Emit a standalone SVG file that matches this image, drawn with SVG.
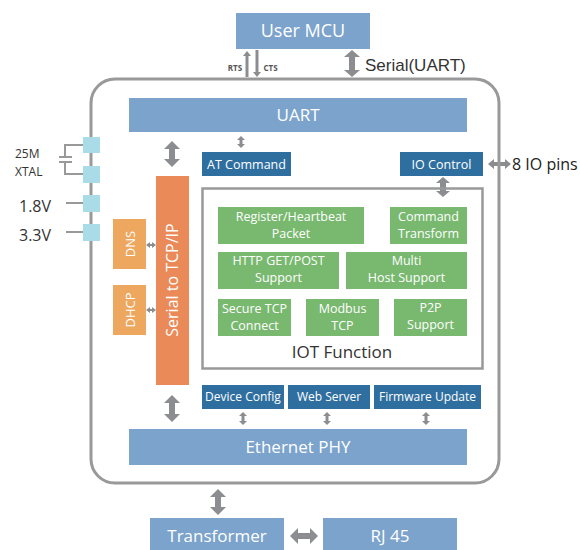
<svg xmlns="http://www.w3.org/2000/svg" width="580" height="550" viewBox="0 0 580 550">
<style>
.lb{fill:#7ba3cc}
.db{fill:#2f6f9f}
.gr{fill:#78b86f}
.or{fill:#e98a58}
.lo{fill:#eda75f}
.pin{fill:#a9dce6}
.ar{fill:#8b8d90}
.t{font-family:"Open Sans","Noto Sans",sans-serif;text-anchor:middle}
.w{fill:#ffffff}
.k{fill:#333333}
.ln{stroke:#999999;fill:none}
.g{font-size:12.5px}
.s{font-size:12px}
</style>
<g id="connectors">
<path class="ar" d="M247,51 L251,56 L248.5,56 L248.5,77 L245.5,77 L245.5,56 L243,56Z"/>
<path class="ar" d="M255.5,50 L258.5,50 L258.5,72 L261,72 L257,77 L253,72 L255.5,72Z"/>
<path class="ar" d="M352,50 L360,57 L355,57 L355,70 L360,70 L352,77 L344,70 L349,70 L349,57 L344,57Z"/>
<path class="ar" d="M172,141 L180,149 L175,149 L175,159 L180,159 L172,167 L164,159 L169,159 L169,149 L164,149Z"/>
<path class="ar" d="M172,395 L180,403 L175,403 L175,414 L180,414 L172,422 L164,414 L169,414 L169,403 L164,403Z"/>
<path class="ar" d="M218,489 L226,497 L221,497 L221,507 L226,507 L218,515 L210,507 L215,507 L215,497 L210,497Z"/>
<path class="ar" d="M290,536 L298,528 L298,533 L310,533 L310,528 L318,536 L310,544 L310,539 L298,539 L298,544Z"/>
<path class="ar" d="M443,177 L450,183 L446,183 L446,191 L450,191 L443,197 L436,191 L440,191 L440,183 L436,183Z"/>
<path class="ar" d="M488,164 L494,159 L494,162 L505,162 L505,159 L511,164 L505,169 L505,166 L494,166 L494,169Z"/>
<path class="ar" d="M241,136 L245,140 L242.5,140 L242.5,144 L245,144 L241,148 L237,144 L239.5,144 L239.5,140 L237,140Z"/>
<path class="ar" d="M146,245 L150,242 L150,244 L152,244 L152,242 L156,245 L152,248 L152,246 L150,246 L150,248Z"/>
<path class="ar" d="M146,310 L150,307 L150,309 L152,309 L152,307 L156,310 L152,313 L152,311 L150,311 L150,313Z"/>
<path class="ar" d="M243,412 L247,416 L244.5,416 L244.5,421 L247,421 L243,425 L239,421 L241.5,421 L241.5,416 L239,416Z"/>
<path class="ar" d="M327,412 L331,416 L328.5,416 L328.5,421 L331,421 L327,425 L323,421 L325.5,421 L325.5,416 L323,416Z"/>
<path class="ar" d="M426,412 L430,416 L427.5,416 L427.5,421 L430,421 L426,425 L422,421 L424.5,421 L424.5,416 L422,416Z"/>
<path class="ln" stroke-width="2" d="M83,145 L65,145 L65,157 M59,157 L72,157 M59,162 L72,162 M65,162 L65,174 L83,174 M66,203 L83,203 M66,232 L83,232"/>
</g>
<g id="main-box"><rect x="91" y="79" width="408" height="404" rx="24" class="ln" stroke-width="3"/></g>
<g id="user-mcu"><rect x="236" y="13" width="134" height="36" class="lb"/><text x="303" y="37" class="t w" font-size="18">User MCU</text></g>
<text x="235" y="71" class="t" font-size="8" font-weight="bold" fill="#555">RTS</text>
<text x="270.5" y="71" class="t" font-size="8" font-weight="bold" fill="#555">CTS</text>
<text x="365" y="71" font-family="'Liberation Sans',Arial,sans-serif" font-size="17" fill="#333">Serial(UART)</text>
<g id="uart"><rect x="129" y="98" width="338" height="34" class="lb"/><text x="298" y="121" class="t w" font-size="17">UART</text></g>
<g id="pins">
<rect x="83" y="137" width="17" height="16" class="pin"/>
<rect x="83" y="166" width="17" height="17" class="pin"/>
<rect x="83" y="195" width="17" height="17" class="pin"/>
<rect x="83" y="224" width="17" height="17" class="pin"/>
<text x="15" y="158" font-family="'Open Sans',sans-serif" font-size="12" fill="#333">25M</text>
<text x="15" y="176" font-family="'Open Sans',sans-serif" font-size="12" fill="#333">XTAL</text>
<text x="19" y="212" font-family="'Open Sans',sans-serif" font-size="16" fill="#333">1.8V</text>
<text x="19" y="241" font-family="'Open Sans',sans-serif" font-size="16" fill="#333">3.3V</text>
</g>
<g id="serial-tcpip"><rect x="156" y="176" width="33" height="209" class="or"/><text transform="translate(178,280) rotate(-90)" class="t w" font-size="16">Serial to TCP/IP</text></g>
<g id="dns"><rect x="113" y="219" width="33" height="50" class="lo"/><text transform="translate(134.5,244) rotate(-90)" class="t w" font-size="13">DNS</text></g>
<g id="dhcp"><rect x="113" y="285" width="33" height="50" class="lo"/><text transform="translate(134.5,310) rotate(-90)" class="t w" font-size="13">DHCP</text></g>
<g id="at-command"><rect x="202" y="152" width="89" height="24" class="db"/><text x="246.5" y="168.5" class="t w" font-size="12.5">AT Command</text></g>
<g id="io-control"><rect x="400" y="152" width="83" height="24" class="db"/><text x="441.5" y="168.5" class="t w" font-size="12.5">IO Control</text></g>
<text x="512" y="170" font-family="'Open Sans',sans-serif" font-size="16" fill="#222">8 IO pins</text>
<g id="iot-function">
<rect x="202.5" y="188.5" width="280" height="180" class="ln" stroke-width="2.5"/>
<text x="342" y="358" class="t k" font-size="17">IOT Function</text>
</g>
<g id="register"><rect x="218" y="207" width="146" height="37" class="gr"/><text class="t w g"><tspan x="291" y="221">Register/Heartbeat</tspan><tspan x="291" y="238">Packet</tspan></text></g>
<g id="cmd-transform"><rect x="390" y="207" width="77" height="37" class="gr"/><text class="t w g"><tspan x="428.5" y="221">Command</tspan><tspan x="428.5" y="238">Transform</tspan></text></g>
<g id="http"><rect x="218" y="252" width="121" height="37" class="gr"/><text class="t w g"><tspan x="278.5" y="265">HTTP GET/POST</tspan><tspan x="278.5" y="282">Support</tspan></text></g>
<g id="multi-host"><rect x="346" y="252" width="121" height="37" class="gr"/><text class="t w g"><tspan x="406.5" y="265">Multi</tspan><tspan x="406.5" y="282">Host Support</tspan></text></g>
<g id="secure-tcp"><rect x="218" y="299" width="73" height="37" class="gr"/><text class="t w g"><tspan x="254.5" y="313">Secure TCP</tspan><tspan x="254.5" y="330">Connect</tspan></text></g>
<g id="modbus"><rect x="306" y="299" width="73" height="37" class="gr"/><text class="t w g"><tspan x="342.5" y="313">Modbus</tspan><tspan x="342.5" y="330">TCP</tspan></text></g>
<g id="p2p"><rect x="394" y="299" width="73" height="37" class="gr"/><text class="t w g"><tspan x="430.5" y="312">P2P</tspan><tspan x="430.5" y="329">Support</tspan></text></g>
<g id="device-config"><rect x="202" y="385" width="82" height="24" class="db"/><text x="243" y="401" class="t w s">Device Config</text></g>
<g id="web-server"><rect x="288" y="385" width="82" height="24" class="db"/><text x="329" y="401" class="t w s">Web Server</text></g>
<g id="firmware-update"><rect x="374" y="385" width="107" height="24" class="db"/><text x="427.5" y="401" class="t w s">Firmware Update</text></g>
<g id="ethernet-phy"><rect x="129" y="429" width="338" height="36" class="lb"/><text x="298" y="453" class="t w" font-size="17">Ethernet PHY</text></g>
<g id="transformer"><rect x="150" y="518" width="134" height="32" class="lb"/><text x="217" y="542" class="t w" font-size="17">Transformer</text></g>
<g id="rj45"><rect x="323" y="518" width="134" height="32" class="lb"/><text x="390" y="542" class="t w" font-size="17">RJ 45</text></g>
</svg>
